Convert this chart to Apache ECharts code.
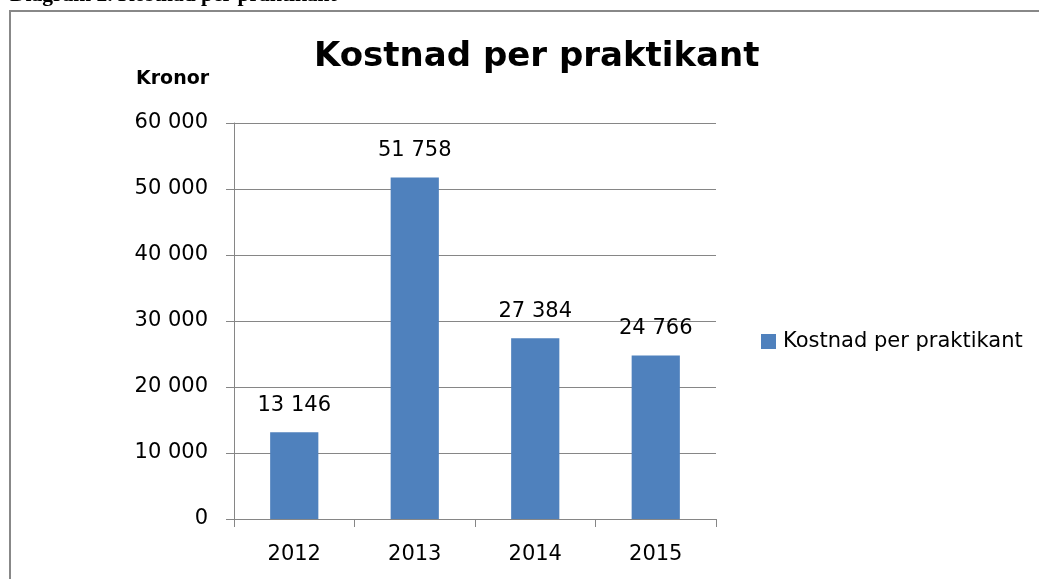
<!DOCTYPE html>
<html>
<head>
<meta charset="utf-8">
<script src="https://cdn.jsdelivr.net/npm/echarts@6/dist/echarts.min.js"></script>
<style>
html,body{margin:0;padding:0;background:#fff;}
#main{width:1039px;height:579px;}
</style>
</head>
<body>
<div id="main"></div>
<script>
const categories = ['2012', '2013', '2014', '2015'];
const values = [13146, 51758, 27384, 24766];
const seriesName = 'Kostnad per praktikant';
const yTicks = [0, 10000, 20000, 30000, 40000, 50000, 60000];

function fmt(v) {
  return String(Math.round(v)).replace(/\B(?=(\d{3})+(?!\d))/g, ' ');
}

const font = '"DejaVu Sans", sans-serif';
const chart = echarts.init(document.getElementById('main'));
chart.setOption({
  animation: false,
  backgroundColor: '#fff',
  title: {
    text: 'Kostnad per praktikant',
    left: 309,
    top: 35,
    textStyle: { fontFamily: font, fontWeight: 'bold', fontSize: 34, color: '#000' }
  },
  graphic: [
    { type: 'rect', shape: { x: 10, y: 11, width: 1060, height: 600 },
      style: { fill: 'none', stroke: '#888', lineWidth: 2 } },
    { type: 'text', left: 10, top: -16,
      style: { text: 'Diagram 2. Kostnad per praktikant', font: 'bold 21.5px "Liberation Serif", serif', fill: '#000' } },
    { type: 'text', left: 136, top: 70,
      style: { text: 'Kronor', font: 'bold 19px "DejaVu Sans", sans-serif', fill: '#000' } }
  ],
  legend: {
    data: [seriesName],
    orient: 'vertical',
    left: 756,
    top: 326,
    itemWidth: 15,
    itemHeight: 15,
    icon: 'rect',
    itemGap: 10,
    textStyle: { fontFamily: font, fontSize: 21, color: '#000', padding: [0, 0, 0, 2] }
  },
  grid: { left: 234, right: 323, top: 123, bottom: 60, containLabel: false },
  xAxis: {
    type: 'category',
    data: categories,
    boundaryGap: true,
    axisLine: { lineStyle: { color: '#868686', width: 1 } },
    axisTick: { show: true, length: 8, alignWithLabel: false, interval: 0, lineStyle: { color: '#868686' } },
    axisLabel: { margin: 25, fontFamily: font, fontSize: 21, color: '#000' }
  },
  yAxis: {
    type: 'value',
    min: yTicks[0],
    max: yTicks[yTicks.length - 1],
    interval: yTicks[1] - yTicks[0],
    axisLine: { show: true, lineStyle: { color: '#868686', width: 1 } },
    axisTick: { show: true, length: 8, lineStyle: { color: '#868686' } },
    splitLine: { show: true, lineStyle: { color: '#868686', width: 1 } },
    axisLabel: { margin: 26, padding: [4, 0, 0, 0], fontFamily: font, fontSize: 21, color: '#000', formatter: fmt }
  },
  series: [{
    name: seriesName,
    type: 'bar',
    data: values,
    barWidth: '40%',
    itemStyle: { color: '#4F81BD' },
    label: {
      show: true,
      position: 'top',
      distance: 16,
      fontFamily: font,
      fontSize: 21,
      color: '#000',
      formatter: p => fmt(p.value)
    }
  }]
});
</script>
</body>
</html>
